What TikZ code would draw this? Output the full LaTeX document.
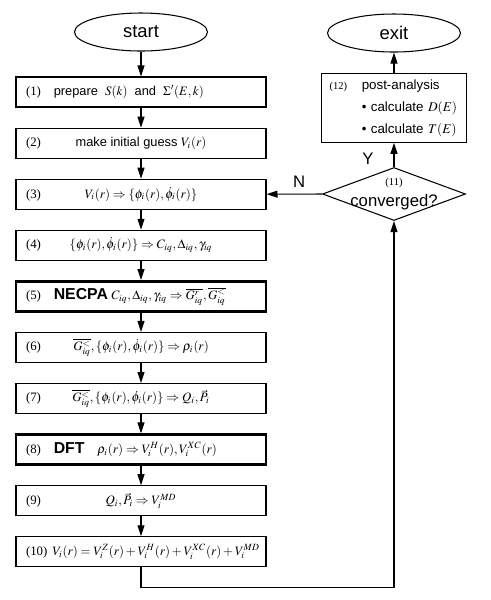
\documentclass[tikz,border=0pt]{standalone}
\usepackage{amsmath}
\usepackage{mathptmx}
\usepackage{fontspec}
\setmainfont{Liberation Sans}
\newfontfamily\numfont{Liberation Serif}
\usetikzlibrary{shapes.geometric,arrows.meta,positioning}
\newcommand{\stepno}[1]{{\numfont(#1)}}
\newcommand{\keyword}[1]{{\fontsize{9}{10}\selectfont\bfseries #1}}
\newcommand{\leftrow}[2]{\makebox[4.6cm][l]{\stepno{#1}#2}}
\newcommand{\midrow}[2]{\makebox[4.6cm]{\stepno{#1}\hfill #2\hfill\hphantom{\stepno{#1}}}}
\newcommand{\smallno}[1]{{\numfont\fontsize{6}{7}\selectfont(#1)}}

\begin{document}
\begin{tikzpicture}[x=0.02cm,y=-0.02cm,node distance=1.022cm]
\tikzstyle{term} = [ellipse, draw, line width=0.6pt, minimum width=2.66cm, minimum height=0.76cm, inner sep=0pt, font=\fontsize{10.5}{12}\selectfont]
\tikzstyle{stepbox} = [rectangle, draw, line width=0.6pt, minimum width=5cm, minimum height=0.6cm, inner xsep=0.2cm, inner ysep=0pt, font=\fontsize{7.3}{9}\selectfont]
\tikzstyle{keybox} = [stepbox, line width=1.5pt]
\tikzstyle{decision} = [diamond, draw, line width=0.6pt, minimum width=2.86cm, minimum height=1.06cm, inner sep=0pt]
\tikzstyle{arrow} = [line width=0.6pt, -{Triangle[length=2.2mm,width=1.4mm]}]
\tikzstyle{tag} = [font=\fontsize{9.5}{11}\selectfont]

\useasboundingbox (0,0) rectangle (491,600);

\node (start) [term] at (141,32) {start};
\node (s1) [stepbox] at (141,92) {\leftrow{1}{\hspace{1em}prepare \ $S(k)$ \ and \ $\Sigma'(E,k)$}};
\node (s2) [stepbox, below of=s1] {\midrow{2}{make initial guess $V_i(r)$}};
\node (s3) [stepbox, below of=s2] {\midrow{3}{$V_i(r)\Rightarrow\{\phi_i(r),\dot{\phi}_i(r)\}$}};
\node (s4) [stepbox, below of=s3] {\midrow{4}{$\{\phi_i(r),\dot{\phi}_i(r)\}\Rightarrow C_{iq},\Delta_{iq},\gamma_{iq}$}};
\node (s5) [keybox, below of=s4] {\leftrow{5}{\hspace{1em}\keyword{NECPA} $C_{iq},\Delta_{iq},\gamma_{iq}\Rightarrow\overline{G^r_{iq}},\overline{G^<_{iq}}$}};
\node (s6) [stepbox, below of=s5] {\midrow{6}{$\overline{G^<_{iq}},\{\phi_i(r),\dot{\phi}_i(r)\}\Rightarrow\rho_i(r)$}};
\node (s7) [stepbox, below of=s6] {\midrow{7}{$\overline{G^<_{iq}},\{\phi_i(r),\dot{\phi}_i(r)\}\Rightarrow Q_i,\vec{P}_i$}};
\node (s8) [keybox, below of=s7] {\leftrow{8}{\hspace{1em}\keyword{DFT}\hspace{1em}$\rho_i(r)\Rightarrow V_i^H(r),V_i^{XC}(r)$}};
\node (s9) [stepbox, below of=s8] {\midrow{9}{$Q_i,\vec{P}_i\Rightarrow V_i^{MD}$}};
\node (s10) [stepbox, below of=s9] {\leftrow{10}{\hspace{0.4em}$V_i(r)=V_i^Z(r)+V_i^H(r)+V_i^{XC}(r)+V_i^{MD}$}};

\node (exit) [term] at (394,33) {exit};
\node (post) [rectangle, draw, line width=0.6pt, minimum height=1.28cm, text width=2.58cm, inner xsep=0.16cm, align=left, font=\fontsize{7.6}{12.5}\selectfont] at (394,108)
  {\mbox{\smallno{12}\hspace{1.1em}post-analysis}\\
   \mbox{\hphantom{\smallno{12}}\hspace{1.1em}\textbullet\ calculate $D(E)$}\\
   \mbox{\hphantom{\smallno{12}}\hspace{1.1em}\textbullet\ calculate $T(E)$}};
\node (conv) [decision, label={[tag, align=center]center:{\smallno{11}\\[1pt]converged?}}] at (394,194) {};

\draw [arrow] (start) -- (s1);
\draw [arrow] (s1) -- (s2);
\draw [arrow] (s2) -- (s3);
\draw [arrow] (s3) -- (s4);
\draw [arrow] (s4) -- (s5);
\draw [arrow] (s5) -- (s6);
\draw [arrow] (s6) -- (s7);
\draw [arrow] (s7) -- (s8);
\draw [arrow] (s8) -- (s9);
\draw [arrow] (s9) -- (s10);
\draw [arrow] (s10.south) -- ++(0,20) -| (conv.south);
\draw [arrow] (conv.west) -- node[tag, above, pos=0.41] {N} (s3.east);
\draw [arrow] (conv.north) -- node[tag, left=0.28cm, pos=0.35] {Y} (post.south);
\draw [arrow] (post.north) -- (exit.south);
\end{tikzpicture}
\end{document}
